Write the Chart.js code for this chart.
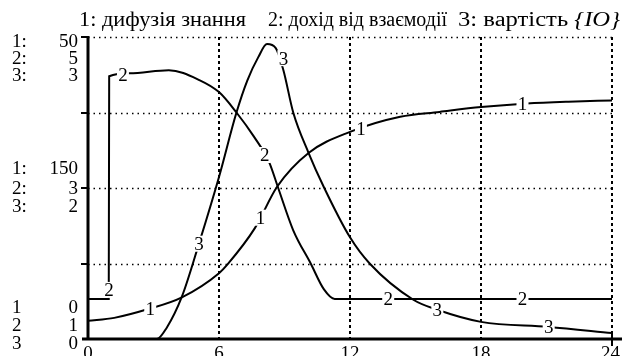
<!DOCTYPE html>
<html>
<head>
<meta charset="utf-8">
<script src="https://cdn.jsdelivr.net/npm/chart.js@4.4.1/dist/chart.umd.min.js"></script>
<style>
  html, body { margin: 0; padding: 0; background: #fff; }
  canvas { display: block; }
</style>
</head>
<body>
<canvas id="StellaChart" width="622" height="356"></canvas>
<script>
// x axis: time 0..24
const xTicks = [0, 6, 12, 18, 24];

// 1: дифузія знання (scale 0..50)
const time1 = [0, 1.2, 2.8, 4.3, 6, 6.4, 7.65, 8.66, 10.1, 12, 14.3, 16.1, 18, 20.1, 22, 24];
const diffusion = [3.0, 3.5, 5.0, 6.9, 10.9, 12.4, 18.4, 25.2, 30.8, 34.3, 36.8, 37.6, 38.4, 39.0, 39.3, 39.5];

// 2: дохід від взаємодії (scale 1..5)
const time2 = [0, 0.95, 0.97, 1.9, 3.7, 5.1, 6.0, 6.8, 7.6, 8.3, 8.7, 9.4, 10.2, 10.8, 11.3, 24];
const income = [1.53, 1.53, 4.48, 4.52, 4.56, 4.43, 4.27, 4.0, 3.68, 3.34, 3.01, 2.44, 2.0, 1.66, 1.53, 1.53];

// 3: вартість {IO} (scale 0..3)
const time3 = [0, 3.15, 3.6, 4.3, 5.1, 6.0, 6.8, 7.3, 7.8, 8.2, 8.6, 8.95, 9.4, 10.1, 10.8, 12, 12.9, 14.9, 16, 18, 21.1, 24];
const cost = [0, 0, 0.11, 0.42, 0.96, 1.61, 2.25, 2.57, 2.8, 2.93, 2.89, 2.67, 2.25, 1.85, 1.51, 1.01, 0.75, 0.39, 0.29, 0.17, 0.12, 0.06];

// left axis labels (top / middle / bottom)
const seriesNames = ['1', '2', '3'];
const topLabels = ['50', '5', '3'];
const midLabels = ['150', '3', '2'];
const bottomLabels = ['0', '1', '0'];

// numbers written on the curves: [time, value] (value null ->)
const marks1 = [[2.85, null], [7.9, null], [12.5, null], [19.9, null]];
const marks2 = [[0.96, 1.65], [1.6, null], [8.1, null], [13.75, null], [19.9, null]];
const marks3 = [[5.08, null], [8.95, 2.79], [16.0, null], [21.1, null]];

const FONT = '"Liberation Serif", "DejaVu Serif", serif';

const toPoints = (xs, ys) => xs.map((x, i) => ({ x: x, y: ys[i] }));

// linear interpolation on the data arrays
const valueAt = (xs, ys, t) => {
    for (let i = 1; i < xs.length; i++) {
        if (t <= xs[i]) {
            const k = (t - xs[i - 1]) / (xs[i] - xs[i - 1]);
            return ys[i - 1] + k * (ys[i] - ys[i - 1]);
        }
    }
    return ys[ys.length - 1];
};

// draw text pieces stretched to a given width (title is wider in the original)
const fitText = (ctx, pieces, x, y, width) => {
    let total = 0;
    pieces.forEach(p => { ctx.font = p.font; total += ctx.measureText(p.text).width; });
    ctx.save();
    ctx.translate(x, y);
    ctx.scale(width / total, 1);
    let cx = 0;
    pieces.forEach(p => {
        ctx.font = p.font;
        ctx.fillText(p.text, cx, 0);
        cx += ctx.measureText(p.text).width;
    });
    ctx.restore();
};

const stellaPlugin = {
    id: 'stellaPlugin',
    beforeDatasetsDraw: (chart) => {
        const { ctx, chartArea: a, scales } = chart;
        ctx.save();
        ctx.strokeStyle = '#000';
        // horizontal dotted grid
        ctx.lineWidth = 1.5;
        ctx.setLineDash([1.5, 4]);
        [12.5, 25, 37.5, 50].forEach(v => {
            const y = Math.round(scales.y1.getPixelForValue(v)) + 0.5;
            ctx.beginPath();
            ctx.moveTo(a.left, y);
            ctx.lineTo(a.right, y);
            ctx.stroke();
        });
        // vertical dashed grid
        ctx.lineWidth = 2;
        ctx.setLineDash([3, 3]);
        xTicks.slice(1).forEach(v => {
            const x = Math.round(scales.x.getPixelForValue(v));
            ctx.beginPath();
            ctx.moveTo(x, a.top);
            ctx.lineTo(x, a.bottom);
            ctx.stroke();
        });
        ctx.restore();
    },
    afterDatasetsDraw: (chart) => {
        const { ctx, chartArea: a, scales } = chart;
        ctx.save();
        ctx.strokeStyle = '#000';
        ctx.fillStyle = '#000';
        ctx.setLineDash([]);

        // axes
        ctx.lineWidth = 3;
        ctx.beginPath();
        ctx.moveTo(a.left, a.top - 1);
        ctx.lineTo(a.left, a.bottom);
        ctx.moveTo(a.left - 6, a.bottom);
        ctx.lineTo(622, a.bottom);
        ctx.stroke();
        ctx.lineWidth = 2;
        [12.5, 25, 37.5, 50].forEach(v => {
            const y = Math.round(scales.y1.getPixelForValue(v));
            ctx.beginPath();
            ctx.moveTo(a.left - 7, y);
            ctx.lineTo(a.left, y);
            ctx.stroke();
        });
        const xEnd = Math.round(scales.x.getPixelForValue(24));
        ctx.beginPath();
        ctx.moveTo(xEnd, a.bottom - 6);
        ctx.lineTo(xEnd, a.bottom + 7);
        ctx.stroke();

        const plain = '19px ' + FONT;

        // title
        ctx.textAlign = 'left';
        ctx.textBaseline = 'alphabetic';
        fitText(ctx, [{ text: '1: дифузія знання', font: '20px ' + FONT }], 79, 26, 167);
        fitText(ctx, [{ text: '2: дохід від взаємодії', font: '20px ' + FONT }], 268, 26, 179);
        fitText(ctx, [{ text: '3: вартість ', font: '20px ' + FONT }, { text: '{IO}', font: 'italic 20px ' + FONT }], 458, 26, 162);
        ctx.font = plain;

        // left labels
        const yMid = scales.y1.getPixelForValue(25);
        const groups = [
            { labels: topLabels, ys: [a.top + 10, a.top + 27, a.top + 44], colon: true },
            { labels: midLabels, ys: [yMid - 14, yMid + 6, yMid + 24], colon: true },
            { labels: bottomLabels, ys: [a.bottom - 26, a.bottom - 8, a.bottom + 10], colon: false }
        ];
        groups.forEach(g => {
            g.labels.forEach((lab, i) => {
                ctx.textAlign = 'left';
                ctx.fillText(seriesNames[i] + (g.colon ? ':' : ''), 12, g.ys[i]);
                ctx.textAlign = 'right';
                ctx.fillText(lab, 78, g.ys[i]);
            });
        });

        // x tick labels
        ctx.textAlign = 'center';
        xTicks.forEach(v => {
            const txt = String(v);
            let x = scales.x.getPixelForValue(v);
            const w = ctx.measureText(txt).width;
            if (x + w / 2 > 620) x = 620 - w / 2;
            ctx.fillText(txt, x, a.bottom + 20);
        });

        // numbers on the curves
        const sets = [
            { marks: marks1, xs: time1, ys: diffusion, scale: scales.y1, txt: '1' },
            { marks: marks2, xs: time2, ys: income, scale: scales.y2, txt: '2' },
            { marks: marks3, xs: time3, ys: cost, scale: scales.y3, txt: '3' }
        ];
        sets.forEach(s => {
            s.marks.forEach(m => {
                const v = m[1] === null ? valueAt(s.xs, s.ys, m[0]) : m[1];
                const px = scales.x.getPixelForValue(m[0]);
                const py = s.scale.getPixelForValue(v);
                ctx.fillStyle = '#fff';
                ctx.fillRect(px - 6, py - 8, 12, 16);
                ctx.fillStyle = '#000';
                ctx.textAlign = 'center';
                ctx.fillText(s.txt, px, py + 6.5);
            });
        });
        ctx.restore();
    }
};

const lineStyle = {
    borderColor: '#000',
    borderWidth: 2,
    pointRadius: 0,
    fill: false,
    cubicInterpolationMode: 'monotone'
};

new Chart(document.getElementById('StellaChart'), {
    type: 'line',
    data: {
        datasets: [
            { ...lineStyle, label: '1: дифузія знання', data: toPoints(time1, diffusion), yAxisID: 'y1' },
            { ...lineStyle, label: '2: дохід від взаємодії', data: toPoints(time2, income), yAxisID: 'y2' },
            { ...lineStyle, label: '3: вартість {IO}', data: toPoints(time3, cost), yAxisID: 'y3' }
        ]
    },
    options: {
        responsive: false,
        animation: false,
        devicePixelRatio: 1,
        layout: { padding: { left: 88, right: 10, top: 37, bottom: 17 } },
        scales: {
            x: { type: 'linear', min: 0, max: 24, display: false },
            y1: { min: 0, max: 50, display: false },
            y2: { min: 1, max: 5, display: false },
            y3: { min: 0, max: 3, display: false }
        },
        plugins: {
            legend: { display: false },
            tooltip: { enabled: false }
        }
    },
    plugins: [stellaPlugin]
});
</script>
</body>
</html>
